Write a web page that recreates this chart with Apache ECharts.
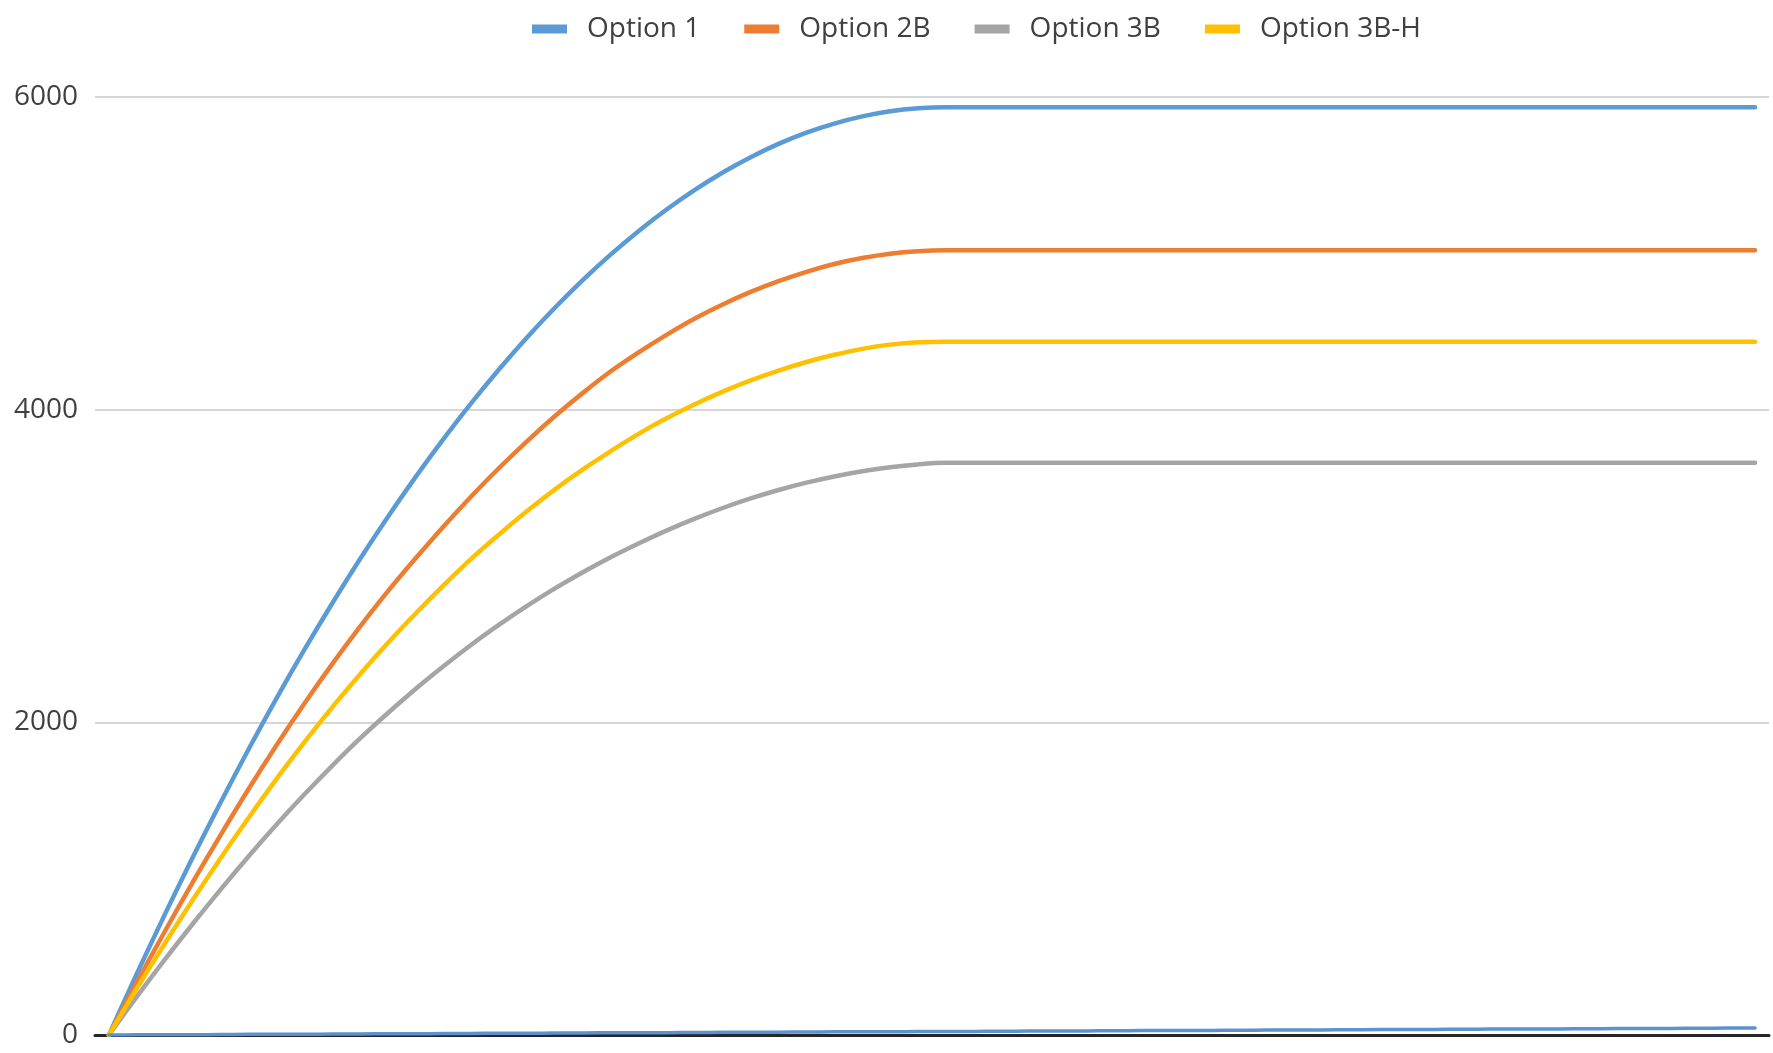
<!DOCTYPE html>
<html>
<head>
<meta charset="utf-8">
<script src="https://cdn.jsdelivr.net/npm/echarts@6/dist/echarts.min.js"></script>
<style>
  html, body { margin: 0; padding: 0; background: #ffffff; }
  #chart { width: 1773px; height: 1053px; }
</style>
</head>
<body>
<div id="chart"></div>
<script>
// Periods along the horizontal axis (labels hidden)
const periods = [1,2,3,4,5,6,7,8,9,10,11,12,13,14,15,16,17,18,19,20,
  21,22,23,24,25,26,27,28,29,30,31,32,33,34,35,36,37,38,39,40,
  41,42,43,44,45,46,47,48,49,50,51,52,53,54,55,56,57,58,59,60];

const option1 = [0,392,770,1135,1487,1826,2152,2463,2760,3045,3315,3572,3815,4045,4262,4465,4655,4832,4995,5145,
  5282,5406,5517,5615,5700,5772,5830,5876,5909,5928,5935,5935,5935,5935,5935,5935,5935,5935,5935,5935,
  5935,5935,5935,5935,5935,5935,5935,5935,5935,5935,5935,5935,5935,5935,5935,5935,5935,5935,5935,5935];

const option2B = [0,337,662,976,1279,1572,1852,2119,2372,2612,2839,3051,3255,3448,3630,3801,3961,4109,4247,4368,
  4480,4583,4673,4753,4822,4882,4932,4970,4998,5014,5020,5020,5020,5020,5020,5020,5020,5020,5020,5020,
  5020,5020,5020,5020,5020,5020,5020,5020,5020,5020,5020,5020,5020,5020,5020,5020,5020,5020,5020,5020];

const option3B = [0,245,482,710,930,1142,1345,1538,1722,1897,2060,2215,2360,2498,2626,2746,2858,2962,3058,3146,
  3228,3303,3371,3432,3486,3533,3573,3606,3632,3650,3660,3660,3660,3660,3660,3660,3660,3660,3660,3660,
  3660,3660,3660,3660,3660,3660,3660,3660,3660,3660,3660,3660,3660,3660,3660,3660,3660,3660,3660,3660];

const option3BH = [0,298,585,863,1131,1388,1637,1872,2096,2308,2509,2698,2878,3049,3205,3354,3492,3619,3737,3847,
  3946,4035,4115,4187,4250,4305,4351,4389,4416,4431,4435,4435,4435,4435,4435,4435,4435,4435,4435,4435,
  4435,4435,4435,4435,4435,4435,4435,4435,4435,4435,4435,4435,4435,4435,4435,4435,4435,4435,4435,4435];

// Low baseline series (not listed in the legend)
const baseline = [0,1,2,2,3,4,5,5,6,7,8,8,9,10,11,11,12,13,14,14,
  15,16,17,17,18,19,20,20,21,22,23,23,24,25,26,26,27,28,29,29,
  30,31,32,32,33,34,35,35,36,37,38,38,39,40,41,41,42,43,44,44];

const yTicks = { min: 0, max: 6000, interval: 2000 };
const legendNames = ['Option 1', 'Option 2B', 'Option 3B', 'Option 3B-H'];
const colors = ['#5B9BD5', '#ED7D31', '#A5A5A5', '#FFC000'];

const font = '"Open Sans", "Noto Sans", sans-serif';

function lineSeries(name, data, color, width) {
  return {
    name: name,
    type: 'line',
    data: data,
    showSymbol: false,
    symbol: 'none',
    smooth: 0.3,
    lineStyle: { color: color, width: width, cap: 'round', join: 'round' },
    itemStyle: { color: color },
    emphasis: { disabled: true },
    animation: false
  };
}

const chart = echarts.init(document.getElementById('chart'));
chart.setOption({
  backgroundColor: '#ffffff',
  animation: false,
  legend: {
    data: legendNames,
    left: 527,
    top: 10,
    itemWidth: 35,
    itemHeight: 9,
    itemGap: 44,
    icon: 'rect',
    textStyle: { fontFamily: font, fontSize: 28, color: '#404040', padding: [0, 0, 0, 15] }
  },
  grid: { left: 95, right: 4, top: 97, bottom: 18, containLabel: false },
  xAxis: {
    type: 'category',
    data: periods,
    boundaryGap: true,
    axisLine: { show: true, lineStyle: { color: '#262626', width: 3 } },
    axisTick: { show: false },
    axisLabel: { show: false },
    splitLine: { show: false }
  },
  yAxis: {
    type: 'value',
    min: yTicks.min,
    max: yTicks.max,
    interval: yTicks.interval,
    axisLine: { show: false },
    axisTick: { show: false },
    axisLabel: {
      fontFamily: font, fontSize: 28, color: '#404040', margin: 17,
      formatter: function (v) { return String(v); }
    },
    splitLine: { lineStyle: { color: '#d6d6d6', width: 2 } }
  },
  series: [
    lineSeries('Option 1', option1, colors[0], 4.5),
    lineSeries('Option 2B', option2B, colors[1], 4.5),
    lineSeries('Option 3B', option3B, colors[2], 4.5),
    lineSeries('Option 3B-H', option3BH, colors[3], 4.5),
    lineSeries('', baseline, '#5A93D0', 3.5)
  ]
});
</script>
</body>
</html>
